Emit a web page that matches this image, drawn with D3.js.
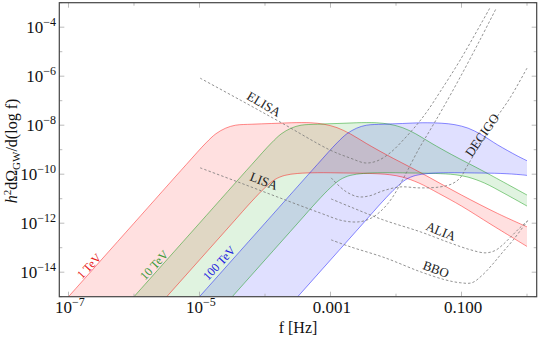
<!DOCTYPE html>
<html><head><meta charset="utf-8">
<script src="https://cdn.jsdelivr.net/npm/d3@7"></script>
<style>body{margin:0;background:#fff}svg{display:block}text{font-family:'Liberation Serif','Times New Roman',Times,serif}</style>
</head><body>
<svg id="c" width="540" height="340"></svg>
<script>
// All curve values are [log10 f (Hz), log10 h^2 dΩ/dlog f]
const redUpper = [[-7.5,-16.5],[-7.0,-15.0],[-6.0,-12.0],[-5.2,-9.6],[-4.9,-8.72],[-4.75,-8.35],[-4.6,-8.12],[-4.45,-8.0],[-4.2,-7.96],[-3.9,-7.93],[-3.6,-7.9],[-3.3,-7.9],[-3.1,-7.96],[-2.9,-8.1],[-2.7,-8.35],[-2.45,-8.75],[-2.15,-9.2],[-1.65,-9.9],[-1.0,-10.85],[-0.45,-11.6],[0.0,-12.15]];
const redLower = [[-6.0,-16.5],[-5.5,-15.0],[-5.0,-13.5],[-4.5,-12.0],[-4.2,-11.1],[-4.0,-10.55],[-3.85,-10.22],[-3.7,-10.05],[-3.5,-9.97],[-3.2,-9.94],[-2.8,-9.95],[-2.4,-9.97],[-2.1,-10.02],[-1.9,-10.12],[-1.65,-10.36],[-1.35,-10.78],[-1.0,-11.3],[-0.55,-12.05],[0.0,-12.95]];
const greenUpper = [[-6.5,-16.5],[-6.0,-15.0],[-5.0,-12.0],[-4.2,-9.6],[-3.9,-8.72],[-3.75,-8.35],[-3.6,-8.12],[-3.45,-8.0],[-3.2,-7.96],[-2.9,-7.93],[-2.6,-7.9],[-2.3,-7.9],[-2.1,-7.96],[-1.9,-8.1],[-1.7,-8.35],[-1.45,-8.75],[-1.15,-9.2],[-0.65,-9.9],[0.0,-10.85]];
const greenLower = [[-5.0,-16.5],[-4.5,-15.0],[-4.0,-13.5],[-3.5,-12.0],[-3.2,-11.1],[-3.0,-10.55],[-2.85,-10.22],[-2.7,-10.05],[-2.5,-9.97],[-2.2,-9.94],[-1.8,-9.95],[-1.4,-9.97],[-1.1,-10.02],[-0.9,-10.12],[-0.65,-10.36],[-0.35,-10.78],[0.0,-11.3]];
const blueUpper = [[-5.5,-16.5],[-5.0,-15.0],[-4.0,-12.0],[-3.2,-9.6],[-2.9,-8.72],[-2.75,-8.35],[-2.6,-8.12],[-2.45,-8.0],[-2.2,-7.96],[-1.9,-7.93],[-1.6,-7.9],[-1.3,-7.92],[-1.1,-7.98],[-0.9,-8.12],[-0.7,-8.38],[-0.45,-8.8],[-0.15,-9.25],[0.0,-9.45]];
const blueLower = [[-4.0,-16.5],[-3.5,-15.0],[-3.0,-13.5],[-2.5,-12.0],[-2.2,-11.1],[-2.0,-10.55],[-1.85,-10.22],[-1.7,-10.05],[-1.5,-9.97],[-1.2,-9.94],[-0.8,-9.95],[-0.4,-9.97],[-0.1,-10.02],[0.0,-10.05]];

const elisa = [[-4.99,-6.08],[-4.38,-6.97],[-3.77,-7.87],[-3.01,-9.01],[-2.70,-9.34],[-2.47,-9.54],[-2.29,-9.46],[-2.09,-9.13],[-1.86,-8.52],[-1.66,-7.91],[-1.51,-7.38],[-1.33,-6.65],[-1.02,-5.34],[-0.57,-3.23]];
const lisa = [[-4.99,-9.74],[-4.38,-10.35],[-3.77,-10.97],[-3.16,-11.58],[-2.81,-11.90],[-2.55,-11.94],[-2.37,-11.78],[-2.21,-11.45],[-2.06,-10.97],[-1.86,-10.03],[-1.66,-9.01],[-1.48,-8.20],[-1.30,-7.38],[-1.02,-6.04],[-0.72,-4.53],[-0.47,-3.23]];
const decigo = [[-2.99,-10.15],[-2.78,-10.68],[-2.58,-10.92],[-2.40,-10.88],[-2.20,-10.68],[-1.94,-10.52],[-1.63,-10.56],[-1.33,-10.52],[-1.15,-10.40],[-1.02,-10.15],[-0.92,-9.70],[-0.72,-8.81],[-0.49,-7.79],[-0.26,-6.89],[0.0,-5.67]];
const alia = [[-2.99,-11.01],[-2.70,-11.33],[-2.20,-11.86],[-1.63,-12.35],[-1.18,-12.80],[-0.87,-13.08],[-0.64,-13.21],[-0.49,-13.12],[-0.37,-12.88],[-0.23,-12.51],[-0.11,-12.19],[0.01,-11.90]];
const bbo = [[-2.99,-12.68],[-2.70,-12.96],[-2.17,-13.41],[-1.63,-13.98],[-1.25,-14.31],[-1.02,-14.43],[-0.84,-14.43],[-0.69,-14.14],[-0.53,-13.69],[-0.38,-13.21],[-0.21,-12.68],[0.01,-11.90]];

const xTicks = [1e-7,1e-6,1e-5,1e-4,1e-3,1e-2,1e-1,1];
const xTickLabels = [["10","−7"],null,["10","−5"],null,["0.001",""],null,["0.100",""],null];
const yTicks = [1e-15,1e-14,1e-13,1e-12,1e-11,1e-10,1e-9,1e-8,1e-7,1e-6,1e-5,1e-4,1e-3];
const yTickLabels = [null,"−14",null,"−12",null,"−10",null,"−8",null,"−6",null,"−4",null];

const bands = [
  {name:"1 TeV", upper:redUpper, lower:redLower, fill:"rgba(255,0,0,0.12)", stroke:"rgba(255,0,0,0.45)"},
  {name:"10 TeV", upper:greenUpper, lower:greenLower, fill:"rgba(0,160,0,0.12)", stroke:"rgba(0,150,0,0.45)"},
  {name:"100 TeV", upper:blueUpper, lower:blueLower, fill:"rgba(0,0,255,0.12)", stroke:"rgba(0,0,255,0.45)"}
];
const detectors = [elisa, lisa, decigo, alia, bbo];

const svg = d3.select("#c");
const L = 59.3, R = 536.7, T = 2.7, B = 296.7;
const x = d3.scaleLog().domain([7.24e-8, 1.406]).range([L, R]);
const y = d3.scaleLog().domain([1e-15, 1e-3]).range([B, T]);
const pt = d => [x(Math.pow(10, d[0])), y(Math.pow(10, d[1]))];
const line = d3.line().curve(d3.curveCatmullRom.alpha(0.5));

svg.append("defs").append("clipPath").attr("id","clip")
  .append("rect").attr("x",L).attr("y",T).attr("width",R-L).attr("height",B-T);
const g = svg.append("g").attr("clip-path","url(#clip)");

bands.forEach(b => {
  const up = line(b.upper.map(pt));
  const lo = line(b.lower.slice().reverse().map(pt));
  g.append("path").attr("d", up + "L" + lo.slice(1) + "Z").attr("fill", b.fill).attr("stroke","none");
});
bands.forEach(b => {
  [b.upper, b.lower].forEach(c => g.append("path").attr("d", line(c.map(pt)))
    .attr("fill","none").attr("stroke", b.stroke).attr("stroke-width",1));
});
detectors.forEach(c => g.append("path").attr("d", line(c.map(pt)))
  .attr("fill","none").attr("stroke","#777").attr("stroke-width",0.8).attr("stroke-dasharray","2.5,2"));

// frame ticks
const tk = svg.append("g").attr("stroke","#aaa").attr("stroke-width",0.8);
xTicks.forEach((v,i) => {
  const len = xTickLabels[i] ? 5 : 3;
  tk.append("line").attr("x1",x(v)).attr("x2",x(v)).attr("y1",B).attr("y2",B-len);
  tk.append("line").attr("x1",x(v)).attr("x2",x(v)).attr("y1",T).attr("y2",T+len);
});
yTicks.forEach((v,i) => {
  const len = yTickLabels[i] ? 5 : 3;
  tk.append("line").attr("x1",L).attr("x2",L+len).attr("y1",y(v)).attr("y2",y(v));
  tk.append("line").attr("x1",R).attr("x2",R-len).attr("y1",y(v)).attr("y2",y(v));
});
svg.append("rect").attr("x",L).attr("y",T).attr("width",R-L).attr("height",B-T)
  .attr("fill","none").attr("stroke","#444").attr("stroke-width",1.2);

xTicks.forEach((v,i) => {
  const lab = xTickLabels[i]; if (!lab) return;
  const t = svg.append("text").attr("x", x(v)+1.5).attr("y", 313).attr("text-anchor","middle")
    .attr("font-size",17).attr("fill","#111");
  t.append("tspan").text(lab[0]);
  if (lab[1]) t.append("tspan").attr("dy",-7).attr("font-size",12).text(lab[1]);
});
yTicks.forEach((v,i) => {
  const lab = yTickLabels[i]; if (!lab) return;
  const t = svg.append("text").attr("x", 56).attr("y", y(v)+6).attr("text-anchor","end")
    .attr("font-size",17).attr("fill","#111");
  t.append("tspan").text("10");
  t.append("tspan").attr("dy",-7).attr("font-size",12).text(lab);
});

svg.append("text").attr("x",298).attr("y",333).attr("text-anchor","middle")
  .attr("font-size",16).attr("fill","#111").text("f [Hz]");
const yl = svg.append("text").attr("transform","translate(17,151) rotate(-90)").attr("text-anchor","middle")
  .attr("font-size",16).attr("fill","#111");
yl.append("tspan").attr("font-style","italic").text("h");
yl.append("tspan").attr("dy",-6).attr("font-size",11).text("2");
yl.append("tspan").attr("dy",6).text("dΩ");
yl.append("tspan").attr("dy",3).attr("font-size",11).text("GW");
yl.append("tspan").attr("dy",-3).text("/d(log f)");

const labels = [
  {t:"ELISA", x:264, y:104, r:31, c:"#222", s:13},
  {t:"LISA", x:264, y:181, r:21, c:"#222", s:13},
  {t:"ALIA", x:441, y:231, r:22, c:"#222", s:13},
  {t:"BBO", x:436, y:269, r:20, c:"#222", s:13},
  {t:"DECIGO", x:482, y:135, r:-55, c:"#222", s:13},
  {t:"1 TeV", x:89, y:266, r:-47, c:"#e82020", s:12},
  {t:"10 TeV", x:154, y:265, r:-47, c:"#3a9a3a", s:12},
  {t:"100 TeV", x:219, y:263, r:-47, c:"#2020e0", s:12}
];
labels.forEach(d => svg.append("text").attr("transform",`translate(${d.x},${d.y}) rotate(${d.r})`)
  .attr("text-anchor","middle").attr("dy","0.35em").attr("font-size",d.s)
  .attr("fill",d.c).text(d.t));
</script>
</body></html>
